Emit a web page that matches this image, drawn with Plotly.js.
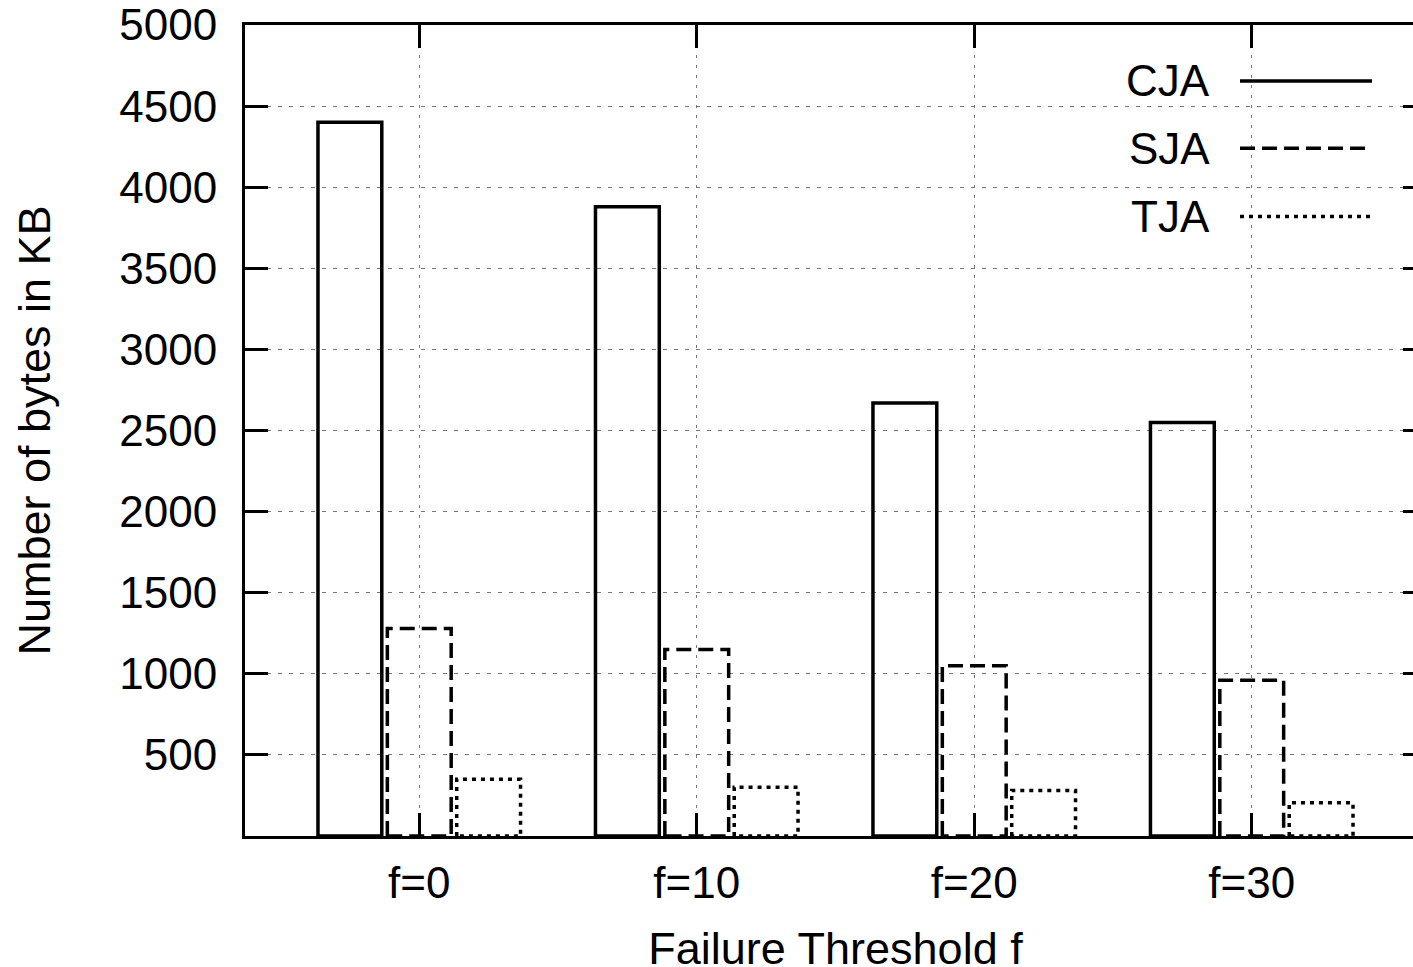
<!DOCTYPE html>
<html>
<head>
<meta charset="utf-8">
<script src="https://cdn.plot.ly/plotly-3.0.1.min.js"></script>
<style>
html, body { margin: 0; padding: 0; overflow: hidden; background: #fff; }
#chart { width: 1440px; height: 1000px; }
</style>
</head>
<body>
<div id="chart"></div>
<script>
const categories = ["f=0", "f=10", "f=20", "f=30"];
const seriesNames = ["CJA", "SJA", "TJA"];
const cjaValues = [4400, 3880, 2670, 2550];
const sjaValues = [1280, 1150, 1050, 960];
const tjaValues = [350, 300, 280, 205];
const yTickVals = [500, 1000, 1500, 2000, 2500, 3000, 3500, 4000, 4500, 5000];

const FONT = "Liberation Sans, Arial, Helvetica, sans-serif";
const dashes = ["solid", "15px,7px", "4px,5px"];
const seriesValues = [cjaValues, sjaValues, tjaValues];

const traces = seriesNames.map((name, i) => ({
  type: "bar",
  name: name,
  x: categories,
  y: seriesValues[i],
  marker: { color: "rgba(0,0,0,0)", line: { color: "#000", width: 3.5 } },
  showlegend: false,
  hoverinfo: "skip"
}));

// legend drawn as text + line samples (text on the left, as in the reference)
const legendY = [0.931, 0.848, 0.764];
const annotations = seriesNames.map((name, i) => ({
  xref: "paper", yref: "paper", x: 0.8188, y: legendY[i],
  xanchor: "right", yanchor: "middle", text: name, showarrow: false,
  font: { family: FONT, size: 44, color: "#000" }
}));
const shapes = seriesNames.map((name, i) => ({
  type: "line", xref: "paper", yref: "paper",
  x0: 0.8425, x1: 0.9543, y0: legendY[i], y1: legendY[i],
  line: { color: "#000", width: 3.5, dash: dashes[i] }
}));

const layout = {
  width: 1440, height: 1000,
  margin: { l: 245, r: 14, t: 25, b: 164 },
  paper_bgcolor: "#fff", plot_bgcolor: "#fff",
  barmode: "group", bargap: 0.25, bargroupgap: 0.08,
  font: { family: FONT, size: 44, color: "#000" },
  xaxis: {
    type: "category", range: [-0.628, 3.628],
    showline: true, linecolor: "#000", linewidth: 3, mirror: "ticks",
    ticks: "inside", ticklen: 23, tickwidth: 3, tickcolor: "#000",
    showgrid: true, gridcolor: "#777", gridwidth: 1, griddash: "3px,7px",
    tickfont: { family: FONT, size: 44, color: "#000" },
    ticklabelstandoff: 6,
    title: { text: "Failure Threshold f", font: { family: FONT, size: 45, color: "#000" }, standoff: 27 },
    zeroline: false, fixedrange: true
  },
  yaxis: {
    range: [0, 5000], tickvals: yTickVals, ticktext: yTickVals.map(String),
    showline: true, linecolor: "#000", linewidth: 3, mirror: "ticks",
    ticks: "inside", ticklen: 23, tickwidth: 3, tickcolor: "#000",
    showgrid: true, gridcolor: "#777", gridwidth: 1, griddash: "4px,7px",
    tickfont: { family: FONT, size: 44, color: "#000" },
    ticklabelstandoff: 16,
    title: { text: "Number of bytes in KB", font: { family: FONT, size: 45, color: "#000" }, standoff: 55 },
    zeroline: false, fixedrange: true
  },
  annotations: annotations,
  shapes: shapes
};

Plotly.newPlot("chart", traces, layout, { staticPlot: true }).then(gd => {
  const groups = gd.querySelectorAll(".barlayer .trace");
  groups.forEach((g, i) => {
    if (dashes[i] && dashes[i] !== "solid") {
      g.querySelectorAll("path").forEach(p => {
        p.style.strokeDasharray = dashes[i].replace(/px/g, "");
      });
    }
  });
});
</script>
</body>
</html>
